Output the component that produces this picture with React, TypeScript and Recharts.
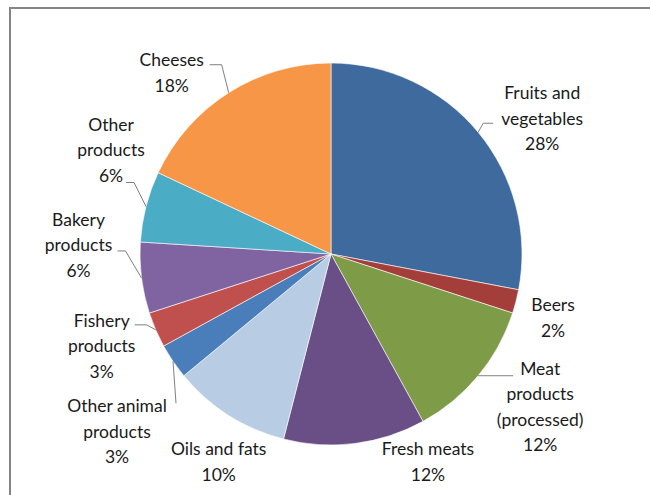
import React from 'react';
import { PieChart, Pie, Cell } from 'recharts';

const CATEGORIES = [
  'Fruits and vegetables',
  'Beers',
  'Meat products (processed)',
  'Fresh meats',
  'Oils and fats',
  'Other animal products',
  'Fishery products',
  'Bakery products',
  'Other products',
  'Cheeses',
];
const LABEL_LINES = [
  ['Fruits and', 'vegetables'],
  ['Beers'],
  ['Meat', 'products', '(processed)'],
  ['Fresh meats'],
  ['Oils and fats'],
  ['Other animal', 'products'],
  ['Fishery', 'products'],
  ['Bakery', 'products'],
  ['Other', 'products'],
  ['Cheeses'],
];
const SHARES = [28, 2, 12, 12, 10, 3, 3, 6, 6, 18];

const COLORS = [
  '#3F6A9D', '#A43E3B', '#7E9B47', '#6A4F87', '#B8CCE4',
  '#4A7EBB', '#C0504D', '#8064A2', '#4BACC6', '#F79646',
];

// label placement relative to the point on the rim: text offset, leader end, elbow length
const LABEL_LAYOUT = [
  { dx: 64, dy: -14, end: [15, -9], elbow: 10 },
  { dx: 37, dy: 16, end: null, elbow: 0 },
  { dx: 62, dy: 31, end: [35, 0], elbow: 0 },
  { dx: 73, dy: 18, end: null, elbow: 0 },
  { dx: -10, dy: 46, end: null, elbow: 0 },
  { dx: -56, dy: 70, end: [3, 42], elbow: 0 },
  { dx: -54, dy: 16, end: [-21, -5], elbow: 12 },
  { dx: -63, dy: -33, end: [-24, -27], elbow: 8 },
  { dx: -35, dy: -57, end: [-20, -24], elbow: 8 },
  { dx: -57, dy: -20, end: [-19, -28], elbow: 12 },
];

const data = CATEGORIES.map((name, i) => ({ name, value: SHARES[i] }));

const RAD = Math.PI / 180;
const LINE_H = 25.5;

const renderLabel = (props: any) => {
  const { cx, cy, midAngle, outerRadius, index, value } = props;
  const ax = cx + outerRadius * Math.cos(-midAngle * RAD);
  const ay = cy + outerRadius * Math.sin(-midAngle * RAD);
  const lay = LABEL_LAYOUT[index];
  const lines = [...LABEL_LINES[index], `${value}%`];
  const tx = ax + lay.dx;
  const ty = ay + lay.dy - ((lines.length - 1) * LINE_H) / 2;
  let leader = null;
  if (lay.end) {
    const ex = ax + lay.end[0];
    const ey = ay + lay.end[1];
    const bx = ex - Math.sign(lay.end[0]) * lay.elbow;
    leader = (
      <polyline
        points={`${ax},${ay} ${bx},${ey} ${ex},${ey}`}
        fill="none"
        stroke="#7f7f7f"
        strokeWidth={1}
      />
    );
  }
  return (
    <g key={`lbl-${index}`}>
      {leader}
      <text
        x={tx}
        y={ty}
        textAnchor="middle"
        fill="#1a1a1a"
        fontSize={17.5}
        fontFamily="Lato, 'Open Sans', sans-serif"
      >
        {lines.map((l, i) => (
          <tspan key={i} x={tx} y={ty + i * LINE_H} dominantBaseline="central">
            {l}
          </tspan>
        ))}
      </text>
    </g>
  );
};

export default function App() {
  return (
    <div style={{ position: 'absolute', left: 0, top: 0, width: 650, height: 495, background: '#fff', overflow: 'hidden' }}>
      <div
        style={{
          position: 'absolute',
          left: 9,
          top: 7,
          width: 700,
          height: 560,
          border: '2px solid #858585',
          boxSizing: 'border-box',
        }}
      />
      <div style={{ position: 'absolute', left: 0, top: 0 }}>
        <PieChart width={650} height={495} margin={{ top: 0, right: 0, bottom: 0, left: 0 }}>
          <Pie
            data={data}
            dataKey="value"
            nameKey="name"
            cx={331}
            cy={254}
            outerRadius={191}
            startAngle={90}
            endAngle={-270}
            stroke="#ffffff"
            strokeWidth={0.6}
            label={renderLabel}
            labelLine={false}
            isAnimationActive={false}
          >
            {data.map((entry, index) => (
              <Cell key={`cell-${index}`} fill={COLORS[index]} />
            ))}
          </Pie>
        </PieChart>
      </div>
    </div>
  );
}
